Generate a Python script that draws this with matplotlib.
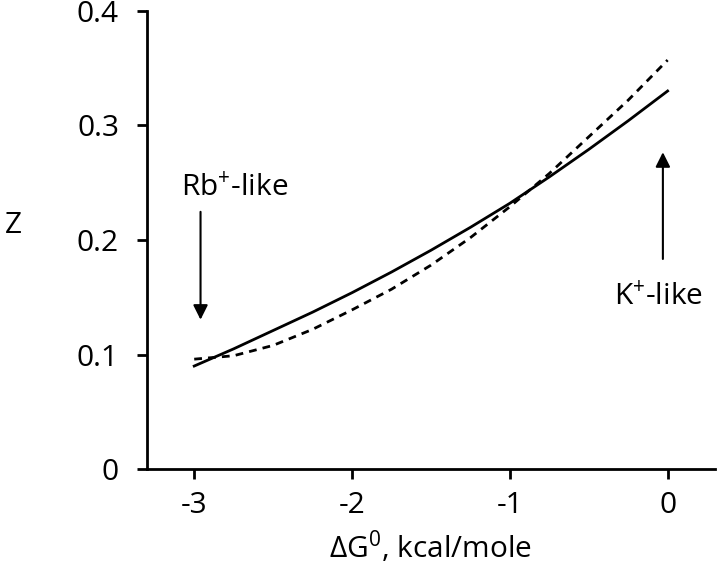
import matplotlib
matplotlib.use("Agg")
import matplotlib.pyplot as plt

# free energy, kcal/mole
dg = [-3.0, -2.75, -2.5, -2.25, -2.0, -1.75, -1.5, -1.25, -1.0, -0.75, -0.5, -0.25, 0.0]
z_solid = [0.090, 0.105, 0.121, 0.137, 0.154, 0.172, 0.191, 0.211, 0.232, 0.255, 0.279, 0.304, 0.330]
z_dashed = [0.096, 0.099, 0.108, 0.122, 0.139, 0.157, 0.178, 0.202, 0.229, 0.258, 0.290, 0.322, 0.357]

xticks = [-3, -2, -1, 0]
yticks = [0, 0.1, 0.2, 0.3, 0.4]
yticklabels = ["0", "0.1", "0.2", "0.3", "0.4"]

plt.rcParams["font.family"] = ["Open Sans", "DejaVu Sans"]
plt.rcParams["mathtext.fontset"] = "custom"
plt.rcParams["mathtext.rm"] = "Open Sans"
plt.rcParams["mathtext.it"] = "Open Sans"
plt.rcParams["axes.unicode_minus"] = False

fs = 21.5

fig = plt.figure(figsize=(7.2, 5.68), dpi=100)
ax = fig.add_axes([0.204, 0.174, 0.789, 0.807])

ax.plot(dg, z_solid, color="black", lw=2)
ax.plot(dg, z_dashed, color="black", lw=2, dashes=(2.8, 2.2))

ax.set_xlim(-3.3, 0.3)
ax.set_ylim(0, 0.4)
ax.set_xticks(xticks)
ax.set_xticklabels([str(t) for t in xticks])
ax.set_yticks(yticks)
ax.set_yticklabels(yticklabels)

for s in ["top", "right"]:
    ax.spines[s].set_visible(False)
for s in ["left", "bottom"]:
    ax.spines[s].set_linewidth(2)
ax.tick_params(axis="both", direction="out", length=7, width=2, labelsize=fs)
ax.tick_params(axis="y", pad=13)
ax.tick_params(axis="x", pad=9)

ax.set_xlabel("ΔG$^{0}$, kcal/mole", fontsize=fs, labelpad=6)
ax.set_ylabel("Z", fontsize=fs, rotation=0, labelpad=0)
ax.yaxis.set_label_coords(-0.235, 0.5)

arrow = dict(arrowstyle="-|>", color="black", lw=1.5, mutation_scale=22)
ax.annotate("", xy=(-2.96, 0.128), xytext=(-2.96, 0.227), arrowprops=arrow)
ax.text(-2.745, 0.245, "Rb$^{+}$-like", ha="center", va="center", fontsize=fs)
ax.annotate("", xy=(-0.03, 0.279), xytext=(-0.03, 0.181), arrowprops=arrow)
ax.text(-0.057, 0.150, "K$^{+}$-like", ha="center", va="center", fontsize=fs)

fig.savefig("out.png", dpi=100)
print("saved")
